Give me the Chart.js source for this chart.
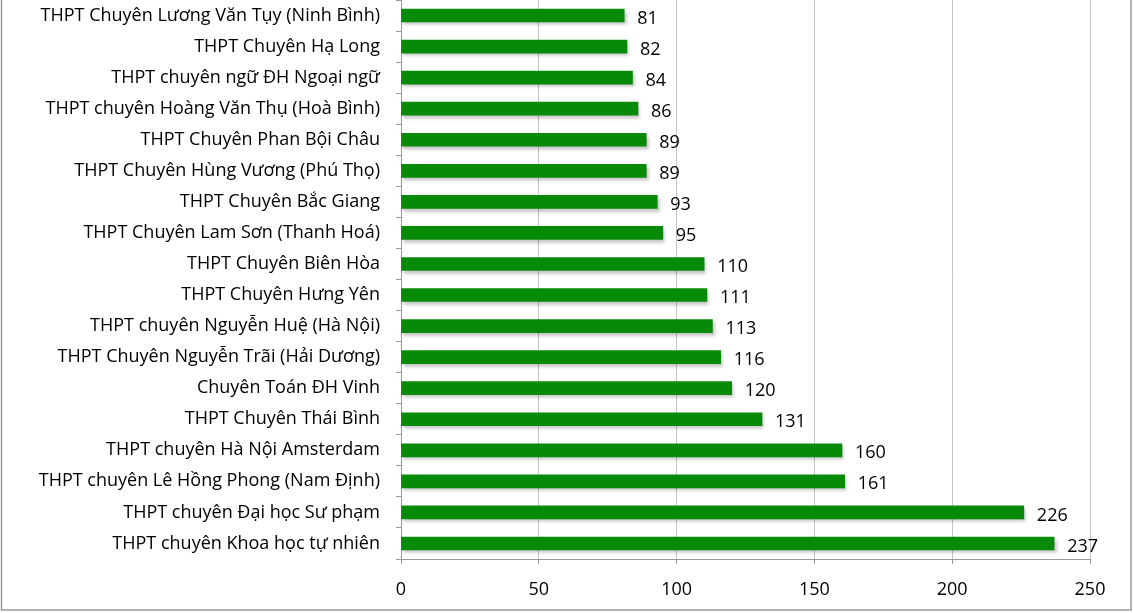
<!DOCTYPE html>
<html>
<head>
<meta charset="utf-8">
<script src="https://cdn.jsdelivr.net/npm/chart.js@4"></script>
<style>
  html, body { margin: 0; padding: 0; background: #fff; }
  #wrap { position: relative; width: 1133px; height: 613px; overflow: hidden; }
</style>
</head>
<body>
<div id="wrap"><canvas id="myChart" width="1133" height="613"></canvas></div>
<script>
// data, top to bottom
var schools = [
  'THPT Chuyên Lương Văn Tụy (Ninh Bình)',
  'THPT Chuyên Hạ Long',
  'THPT chuyên ngữ ĐH Ngoại ngữ',
  'THPT chuyên Hoàng Văn Thụ (Hoà Bình)',
  'THPT Chuyên Phan Bội Châu',
  'THPT Chuyên Hùng Vương (Phú Thọ)',
  'THPT Chuyên Bắc Giang',
  'THPT Chuyên Lam Sơn (Thanh Hoá)',
  'THPT Chuyên Biên Hòa',
  'THPT Chuyên Hưng Yên',
  'THPT chuyên Nguyễn Huệ (Hà Nội)',
  'THPT Chuyên Nguyễn Trãi (Hải Dương)',
  'Chuyên Toán ĐH Vinh',
  'THPT Chuyên Thái Bình',
  'THPT chuyên Hà Nội Amsterdam',
  'THPT chuyên Lê Hồng Phong (Nam Định)',
  'THPT chuyên Đại học Sư phạm',
  'THPT chuyên Khoa học tự nhiên'
];
var counts = [81, 82, 84, 86, 89, 89, 93, 95, 110, 111, 113, 116, 120, 131, 160, 161, 226, 237];
var xTicks = [0, 50, 100, 150, 200, 250];

var fontFam = '"Open Sans", Lato, sans-serif';
var fontSize = 18;

// soft shadow under the bars, like the office chart
var barShadow = {
  id: 'barShadow',
  beforeDatasetsDraw: function(chart) {
    var c = chart.ctx;
    c.save();
    c.shadowColor = 'rgba(0,0,0,0.22)';
    c.shadowBlur = 3;
    c.shadowOffsetX = 2;
    c.shadowOffsetY = 3;
  },
  afterDatasetsDraw: function(chart) {
    chart.ctx.restore();
  }
};

// value labels right of each bar
var valueLabels = {
  id: 'valueLabels',
  afterDatasetsDraw: function(chart) {
    var c = chart.ctx;
    var meta = chart.getDatasetMeta(0);
    c.save();
    c.font = fontSize + 'px ' + fontFam;
    c.fillStyle = '#000';
    c.textAlign = 'left';
    c.textBaseline = 'middle';
    meta.data.forEach(function(bar, i) {
      c.fillText(String(counts[i]), bar.x + 13, bar.y + 3);
    });
    c.restore();
  }
};

// outer frame of the chart box
var frame = {
  id: 'frame',
  afterDraw: function(chart) {
    var c = chart.ctx;
    c.save();
    c.strokeStyle = '#9a9a9a';
    c.lineWidth = 1.5;
    c.strokeRect(1.5, -10, 1129.5, 620);
    c.restore();
  }
};

var ctx = document.getElementById('myChart');
var grath = new Chart(ctx, {
  type: 'bar',
  data: {
    labels: schools,
    datasets: [{
      data: counts,
      backgroundColor: '#078a07',
      borderWidth: 0,
      barThickness: 13
    }]
  },
  options: {
    indexAxis: 'y',
    responsive: false,
    animation: false,
    layout: { padding: { left: 0, right: 43, top: 0, bottom: 0 } },
    plugins: {
      legend: { display: false },
      tooltip: { enabled: false }
    },
    scales: {
      x: {
        min: 0,
        max: 250,
        afterBuildTicks: function(scale) {
          scale.ticks = xTicks.map(function(v) { return { value: v }; });
        },
        afterFit: function(scale) { scale.height = 54; },
        grid: { color: '#c4c4c4', lineWidth: 1, tickLength: 5, tickColor: '#9a9a9a' },
        border: { color: '#9a9a9a' },
        ticks: { color: '#000', padding: 15, font: { size: fontSize, family: fontFam } }
      },
      y: {
        afterFit: function(scale) {
          scale.width = 401;
          scale.paddingTop = 0;
          scale.paddingBottom = 0;
        },
        grid: { drawOnChartArea: false, tickLength: 5, tickColor: '#9a9a9a', offset: true },
        border: { color: '#9a9a9a' },
        ticks: { color: '#000', padding: 16, autoSkip: false, font: { size: fontSize, family: fontFam } }
      }
    }
  },
  plugins: [barShadow, valueLabels, frame]
});
</script>
</body>
</html>
